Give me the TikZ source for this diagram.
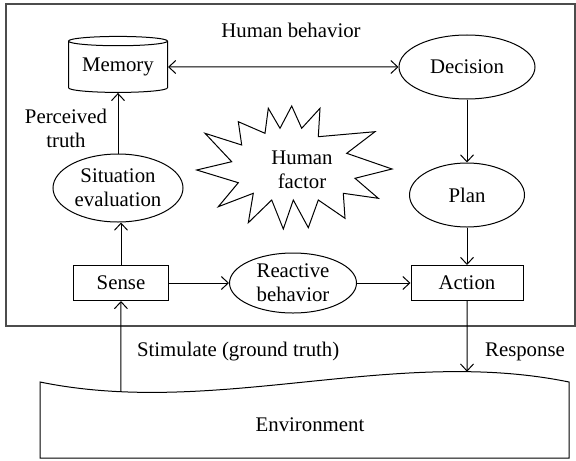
\documentclass[tikz,border=0pt]{standalone}
\usepackage{fontspec}
\setmainfont{Liberation Serif}
\usetikzlibrary{arrows.meta,shapes.geometric}

\begin{document}
\begin{tikzpicture}[x=0.5pt, y=-0.5pt,
  font=\fontsize{10.4}{12}\selectfont,
  box/.style={draw, line width=0.5pt, minimum height=17.5pt, inner sep=0pt},
  oval/.style={draw, ellipse, line width=0.5pt, align=center, inner sep=0pt},
  store/.style={draw, cylinder, shape border rotate=90, aspect=0.13, line width=0.5pt, minimum width=49.5pt, minimum height=28pt, inner sep=0pt},
  arrow/.style={-{Straight Barb[length=3.5pt,width=6.5pt]}, line width=0.5pt},
  lab/.style={align=center}
]
\useasboundingbox (0,0) rectangle (576,460);

% human behavior frame
\draw[line width=1pt, gray!60!black] (6,4) rectangle (575,326);
\node (hb) at (291,30) {Human behavior};

\node[store] (mem) at (118,67) {Memory};
\node[oval, minimum width=68pt, minimum height=32pt] (dec) at (467,67) {Decision};
\node[oval, minimum width=65pt, minimum height=34pt] (sit) at (118,188) {Situation\\evaluation};
\node[oval, minimum width=57.5pt, minimum height=32pt] (plan) at (467,195) {Plan};
\node[box, minimum width=47.5pt] (sense) at (121,283) {Sense};
\node[oval, minimum width=63.5pt, minimum height=30pt] (react) at (293,283) {Reactive\\behavior};
\node[box, minimum width=56pt] (act) at (467,283) {Action};
\node[lab] (pt) at (66,128) {Perceived\\truth};

% human factor
\draw[line width=0.5pt] (196.7,170) -- (231.7,161.7) -- (205,133.3) -- (241.7,145) -- (238.3,121.7)
  -- (265,133.3) -- (268.3,108.3) -- (280,128.3) -- (291.7,106) -- (301.7,128.3) -- (320,108.3)
  -- (318.3,136.7) -- (375,131.7) -- (346.7,153.3) -- (392,169) -- (355,178.3) -- (378.3,198.3)
  -- (343.3,193.3) -- (345,218.3) -- (318.3,200) -- (308.3,227.7) -- (293.3,200) -- (283.3,229)
  -- (271.7,200) -- (248.3,222.7) -- (253.3,193.3) -- (218.3,206.7) -- (238.3,182.7) -- cycle;
\node[lab] (hf) at (302,170) {Human\\factor};

% environment
\draw[line width=0.5pt] (40,458) -- (40,382) .. controls (216,418) and (393,346) .. (569,382)
  coordinate[pos=0.153] (envs) coordinate[pos=0.807] (enva) -- (569,458) -- cycle;
\node (env) at (310,425) {Environment};
\node[anchor=west] (stim) at (130,352) {Stimulate (ground truth)};
\node (resp) at (525,352) {Response};

\draw[{Straight Barb[length=3.5pt,width=6.5pt]}-{Straight Barb[length=3.5pt,width=6.5pt]}, line width=0.5pt] (mem) -- (dec);
\draw[arrow] (dec) -- (plan);
\draw[arrow] (plan) -- (act);
\draw[arrow] (sit) -- (mem);
\draw[arrow] (sense.north) -- (sense.north |- sit.south);
\draw[arrow] (sense) -- (react);
\draw[arrow] (react) -- (act);
\draw[arrow] (envs) -- (sense);
\draw[arrow] (act) -- (enva);
\end{tikzpicture}
\end{document}
